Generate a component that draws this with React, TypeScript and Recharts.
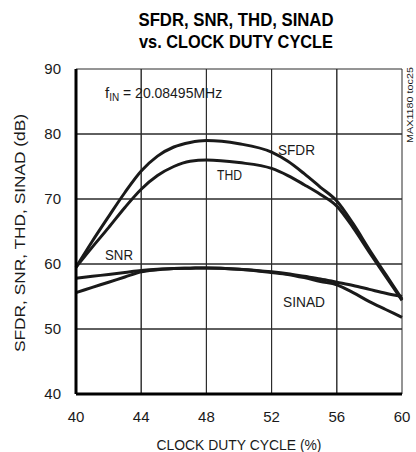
import React from 'react';
import { LineChart, Line, XAxis, YAxis, CartesianGrid } from 'recharts';

const duty = [40, 41, 42, 43, 44, 45, 46, 47, 48, 50, 52, 53, 54, 55, 56, 57, 58, 59, 60];
const sfdr = [59.5, 63.5, 67.3, 71, 74.3, 76.6, 78, 78.7, 79, 78.5, 77.2, 75.8, 73.9, 71.8, 69.7, 66.2, 62.2, 58.4, 54.6];
const thd = [59.5, 62.6, 65.6, 68.7, 71.5, 73.6, 75, 75.8, 76, 75.6, 74.7, 73.6, 72.2, 70.7, 68.9, 65.6, 61.8, 58.1, 54.4];
const snr = [57.8, 58.1, 58.4, 58.7, 59, 59.2, 59.3, 59.35, 59.4, 59.2, 58.8, 58.5, 58.1, 57.7, 57.2, 56.7, 56.1, 55.5, 55];
const sinad = [55.6, 56.4, 57.2, 58, 58.8, 59.1, 59.3, 59.35, 59.4, 59.2, 58.7, 58.4, 57.9, 57.3, 56.8, 55.6, 54.2, 53, 51.8];

const xTicks = [40, 44, 48, 52, 56, 60];
const yTicks = [40, 50, 60, 70, 80, 90];

const data = duty.map((d, i) => ({ duty: d, sfdr: sfdr[i], thd: thd[i], snr: snr[i], sinad: sinad[i] }));

const font = '"Liberation Sans", Arial, sans-serif';
const ink = '#1a1a1a';

// plot box, same as the chart margins + axis sizes below
const W = 416;
const H = 452;
const margin = { top: 69, right: 14, bottom: 28, left: 0 };
const yAxisW = 76;
const xAxisH = 30;
const plot = {
  x: margin.left + yAxisW,
  y: margin.top,
  w: W - margin.left - margin.right - yAxisW,
  h: H - margin.top - margin.bottom - xAxisH,
};
const sx = (v: number) => plot.x + ((v - 40) / 20) * plot.w;
const sy = (v: number) => plot.y + ((90 - v) / 50) * plot.h;

export default function App() {
  return (
    <div style={{ position: 'absolute', left: 0, top: 0, width: W, height: H }}>
      <LineChart width={W} height={H} data={data} margin={margin}>
        <CartesianGrid stroke="#2b2b2b" />
        <g stroke="#2b2b2b" strokeWidth={1}>
          {xTicks.slice(1, -1).map((t) => (
            <line key={'gx' + t} x1={sx(t)} x2={sx(t)} y1={sy(90)} y2={sy(40)} />
          ))}
          {yTicks.slice(1, -1).map((t) => (
            <line key={'gy' + t} x1={sx(40)} x2={sx(60)} y1={sy(t)} y2={sy(t)} />
          ))}
        </g>
        <XAxis
          dataKey="duty"
          type="number"
          domain={[40, 60]}
          ticks={xTicks}
          height={xAxisH}
          axisLine={{ stroke: '#000', strokeWidth: 3 }}
          tickLine={false}
          tickMargin={11}
          tick={{ fill: ink, fontSize: 15, fontFamily: font }}
        />
        <XAxis xAxisId="top" orientation="top" dataKey="duty" type="number" domain={[40, 60]} ticks={xTicks} height={0} tick={false} tickLine={false} axisLine={{ stroke: '#000', strokeWidth: 3 }} />
        <YAxis
          type="number"
          domain={[40, 90]}
          ticks={yTicks}
          width={yAxisW}
          axisLine={{ stroke: '#000', strokeWidth: 3 }}
          tickLine={false}
          tickMargin={9}
          tick={{ fill: ink, fontSize: 15, fontFamily: font }}
        />
        <YAxis yAxisId="right" orientation="right" type="number" domain={[40, 90]} ticks={yTicks} width={0} tick={false} tickLine={false} axisLine={{ stroke: '#000', strokeWidth: 3 }} />
        <Line dataKey="sfdr" type="monotone" stroke={ink} strokeWidth={3} dot={false} isAnimationActive={false} />
        <Line dataKey="thd" type="monotone" stroke={ink} strokeWidth={3} dot={false} isAnimationActive={false} />
        <Line dataKey="snr" type="monotone" stroke={ink} strokeWidth={3} dot={false} isAnimationActive={false} />
        <Line dataKey="sinad" type="monotone" stroke={ink} strokeWidth={3} dot={false} isAnimationActive={false} />
        <g fontFamily={font} fill="#000" fontWeight="bold">
          <text x={236} y={26} textAnchor="middle" fontSize={19} textLength={195} lengthAdjust="spacingAndGlyphs">
            SFDR, SNR, THD, SINAD
          </text>
          <text x={236} y={48} textAnchor="middle" fontSize={19} textLength={194} lengthAdjust="spacingAndGlyphs">
            vs. CLOCK DUTY CYCLE
          </text>
        </g>
        <g fontFamily={font} fill={ink} fontSize={15}>
          <text x={105} y={98}>
            f
            <tspan fontSize={10} dy={3}>IN</tspan>
            <tspan dy={-3} textLength={103} lengthAdjust="spacingAndGlyphs"> = 20.08495MHz</tspan>
          </text>
          <text x={278} y={155} textLength={37} lengthAdjust="spacingAndGlyphs">SFDR</text>
          <text x={217} y={180} textLength={25} lengthAdjust="spacingAndGlyphs">THD</text>
          <text x={105} y={260} textLength={28} lengthAdjust="spacingAndGlyphs">SNR</text>
          <text x={283} y={307} textLength={42} lengthAdjust="spacingAndGlyphs">SINAD</text>
          <text x={239} y={450} textAnchor="middle" textLength={165} lengthAdjust="spacingAndGlyphs">
            CLOCK DUTY CYCLE (%)
          </text>
          <text
            x={0}
            y={0}
            transform="translate(25,233) rotate(-90)"
            textAnchor="middle"
            textLength={238}
            lengthAdjust="spacingAndGlyphs"
          >
            SFDR, SNR, THD, SINAD (dB)
          </text>
          <text x={0} y={0} transform="translate(413,105) rotate(-90)" textAnchor="middle" fontSize={9} textLength={76} lengthAdjust="spacingAndGlyphs">
            MAX1180 toc25
          </text>
        </g>
      </LineChart>
    </div>
  );
}
